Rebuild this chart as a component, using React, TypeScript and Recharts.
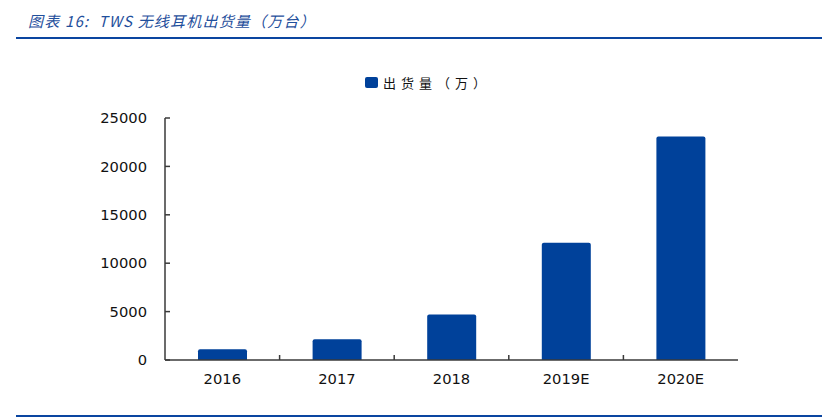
import React from "react";
import { BarChart, Bar, XAxis, YAxis, Legend } from "recharts";

const categories = ["2016", "2017", "2018", "2019E", "2020E"];
const shipments = [1100, 2150, 4700, 12100, 23100];
const yTicks = [0, 5000, 10000, 15000, 20000, 25000];
const seriesName = "出货量（万）";
const title = "图表 16:  TWS 无线耳机出货量（万台）";

const data = categories.map((c, i) => ({ name: c, value: shipments[i] }));

const BLUE = "#00419A";
const AXIS = "#3a3a3a";
const X_TICK_MARGIN = 14;

const LegendContent = (props: any) => {
  const items = props.payload || [];
  return (
    <div style={{ display: "flex", alignItems: "center", height: 20 }}>
      {items.map((it: any) => (
        <div key={it.value} style={{ display: "flex", alignItems: "center" }}>
          <span
            style={{
              display: "inline-block",
              width: 13,
              height: 11,
              background: it.color,
              borderRadius: 2,
              marginRight: 5,
            }}
          />
          <span
            style={{
              fontFamily: "'Noto Sans CJK SC'",
              fontSize: 13,
              letterSpacing: 5,
              color: "#111",
            }}
          >
            {it.value}
          </span>
        </div>
      ))}
    </div>
  );
};

// Category tick: label at band centre, inward tick mark at the band boundary
const CatTick = (props: any) => {
  const { x, y, payload, index } = props;
  const axisY = y - X_TICK_MARGIN;
  const bx = x + (payload.offset || 0);
  return (
    <g>
      {index < categories.length - 1 && (
        <line x1={bx} x2={bx} y1={axisY} y2={axisY - 5} stroke={AXIS} strokeWidth={1.5} />
      )}
      <text
        x={x}
        y={y}
        dy="0.71em"
        textAnchor="middle"
        fill="#111"
        fontSize={14.7}
        fontFamily="'DejaVu Sans'"
      >
        {payload.value}
      </text>
    </g>
  );
};

export default function App() {
  return (
    <div
      style={{
        position: "absolute",
        left: 0,
        top: 0,
        width: 822,
        height: 418,
        background: "#fff",
        overflow: "hidden",
      }}
    >
      <div
        style={{
          position: "absolute",
          left: 28,
          top: 10,
          fontFamily: "'Noto Sans CJK SC'",
          fontStyle: "italic",
          fontSize: 15,
          lineHeight: "22px",
          color: "#1F4F9C",
          letterSpacing: 1.2,
          whiteSpace: "pre",
        }}
      >
        {title}
      </div>
      <div
        style={{
          position: "absolute",
          left: 16,
          top: 37,
          width: 806,
          height: 2,
          background: "#0A45A0",
        }}
      />
      <div
        style={{
          position: "absolute",
          left: 16,
          top: 415,
          width: 806,
          height: 1.5,
          background: "#0A45A0",
        }}
      />
      <div style={{ position: "absolute", left: 0, top: 0 }}>
        <BarChart
          width={822}
          height={418}
          data={data}
          margin={{ top: 98, right: 84, bottom: 28, left: 0 }}
        >
          <Legend
            verticalAlign="top"
            content={<LegendContent />}
            wrapperStyle={{ top: 72, left: 365, width: "auto" }}
          />
          <XAxis
            dataKey="name"
            height={30}
            tickLine={false}
            tickSize={0}
            tickMargin={X_TICK_MARGIN}
            interval={0}
            axisLine={{ stroke: AXIS, strokeWidth: 1.5 }}
            tick={<CatTick />}
          />
          <YAxis
            width={165}
            domain={[0, 25000]}
            ticks={yTicks}
            interval={0}
            tickSize={-5}
            tickMargin={23}
            axisLine={{ stroke: AXIS, strokeWidth: 1.5 }}
            tickLine={{ stroke: AXIS, strokeWidth: 1.5 }}
            tick={{ fill: "#111", fontSize: 14.7, fontFamily: "'DejaVu Sans'" }}
          />
          <Bar
            dataKey="value"
            name={seriesName}
            fill={BLUE}
            barSize={49}
            radius={[2, 2, 0, 0]}
            isAnimationActive={false}
          />
        </BarChart>
      </div>
    </div>
  );
}
